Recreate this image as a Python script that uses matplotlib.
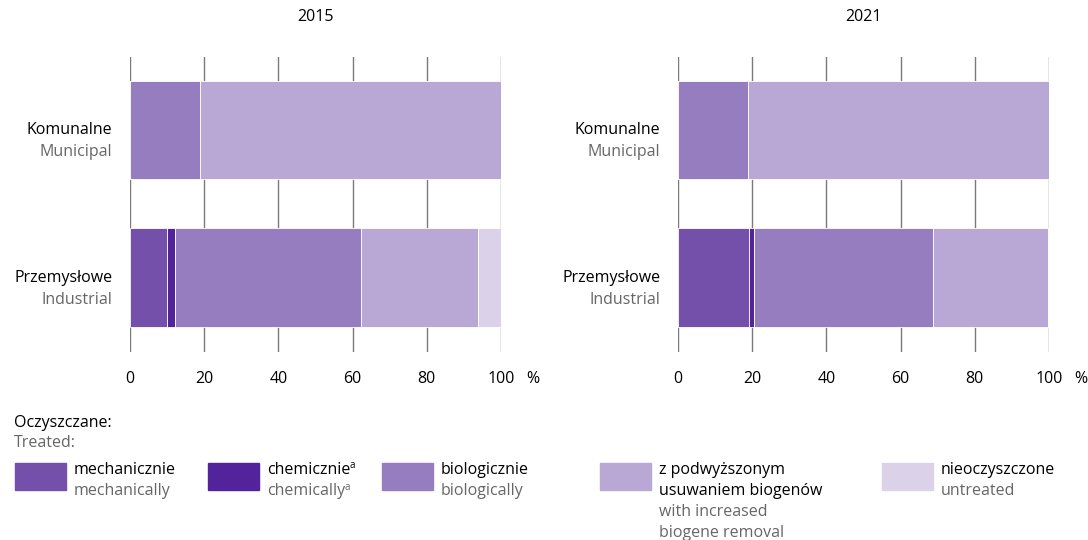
import numpy as np
import matplotlib.pyplot as plt
from matplotlib.transforms import offset_copy

plt.rcParams['font.family'] = ['Open Sans', 'DejaVu Sans']

# Dane
lata = ['2015', '2021']
kategorie_pl = ['Przemysłowe', 'Komunalne']
kategorie_en = ['Industrial', 'Municipal']
# kolejnosc: [Przemyslowe, Komunalne]
mechanicznie = {'2015': [9.9, 0.0], '2021': [19.2, 0.0]}
chemicznie = {'2015': [2.2, 0.0], '2021': [1.2, 0.0]}
biologicznie = {'2015': [50.1, 18.9], '2021': [48.2, 18.9]}
biogeny = {'2015': [31.5, 81.1], '2021': [31.2, 81.1]}
nieoczyszczone = {'2015': [6.3, 0.0], '2021': [0.2, 0.0]}
ticks = [0, 20, 40, 60, 80, 100]

kolory = ['#7550ab', '#52239a', '#967dc0', '#b9a7d5', '#dbd2ea']
szary = '#666666'
fs = 11.5

W, H = 1088, 540
fig = plt.figure(figsize=(W / 100, H / 100), dpi=100)

pozycje_x = [130, 678]
for rok, x0 in zip(lata, pozycje_x):
    ax = fig.add_axes([x0 / W, 1 - 352 / H, 371 / W, 295 / H])
    serie = [mechanicznie[rok], chemicznie[rok], biologicznie[rok], biogeny[rok], nieoczyszczone[rok]]
    y = np.arange(len(kategorie_pl))
    left = np.zeros(len(y))
    for vals, c in zip(serie, kolory):
        ax.barh(y, vals, left=left, height=0.67, color=c, edgecolor='white', linewidth=0.6, zorder=2)
        left = left + np.array(vals)
    for t in ticks:
        ax.axvline(t, color='#7a7a7a', linewidth=1.0, zorder=1)
    ax.set_xlim(0, 100)
    ax.set_ylim(-0.505, 1.495)
    for s in ax.spines.values():
        s.set_visible(False)
    ax.set_xticks(ticks)
    ax.set_xticklabels([str(t) for t in ticks], fontsize=fs)
    ax.tick_params(axis='x', length=0, pad=14)
    ax.set_yticks([])
    ax.text(108.5, -27 / 295, '%', transform=ax.get_xaxis_transform(), fontsize=fs,
            ha='center', va='center')
    ax.set_title(rok, fontsize=fs, pad=26)
    for yi, pl, en in zip(y, kategorie_pl, kategorie_en):
        ax.text(-4.8, yi, pl, fontsize=fs, ha='right', va='center', color='black',
                transform=offset_copy(ax.transData, fig=fig, y=0))
        ax.text(-4.8, yi, en, fontsize=fs, ha='right', va='center', color=szary,
                transform=offset_copy(ax.transData, fig=fig, y=-22, units='dots'))

# Legenda
fig.text(14 / W, 1 - 423 / H, 'Oczyszczane:', fontsize=fs, va='center', color='black')
fig.text(14 / W, 1 - 443 / H, 'Treated:', fontsize=fs, va='center', color=szary)

legenda = [
    (15, 'mechanicznie', ['mechanically'], False),
    (208, 'chemicznie', ['chemically'], True),
    (382, 'biologicznie', ['biologically'], False),
    (600, 'z podwyższonym\nusuwaniem biogenów', ['with increased', 'biogene removal'], False),
    (882, 'nieoczyszczone', ['untreated'], False),
]
renderer = fig.canvas.get_renderer()
for (px, pl, en, sup), c in zip(legenda, kolory):
    fig.patches.append(plt.Rectangle((px / W, 1 - 490 / H), 51 / W, 27 / H,
                                     transform=fig.transFigure, color=c))
    tx = (px + 59) / W
    yy = 470
    napisy = []
    for l in pl.split('\n'):
        napisy.append(fig.text(tx, 1 - yy / H, l, fontsize=fs, va='center', color='black'))
        yy += 21
    for l in en:
        napisy.append(fig.text(tx, 1 - yy / H, l, fontsize=fs, va='center', color=szary))
        yy += 21
    if sup:
        for t, kol in zip(napisy, ['black', szary]):
            bb = t.get_window_extent(renderer)
            ytop = t.get_position()[1]
            fig.text((bb.x1 - 1) / W, ytop + 4 / H, 'a', fontsize=7, va='center', color=kol)

fig.savefig('out.png', dpi=100)
